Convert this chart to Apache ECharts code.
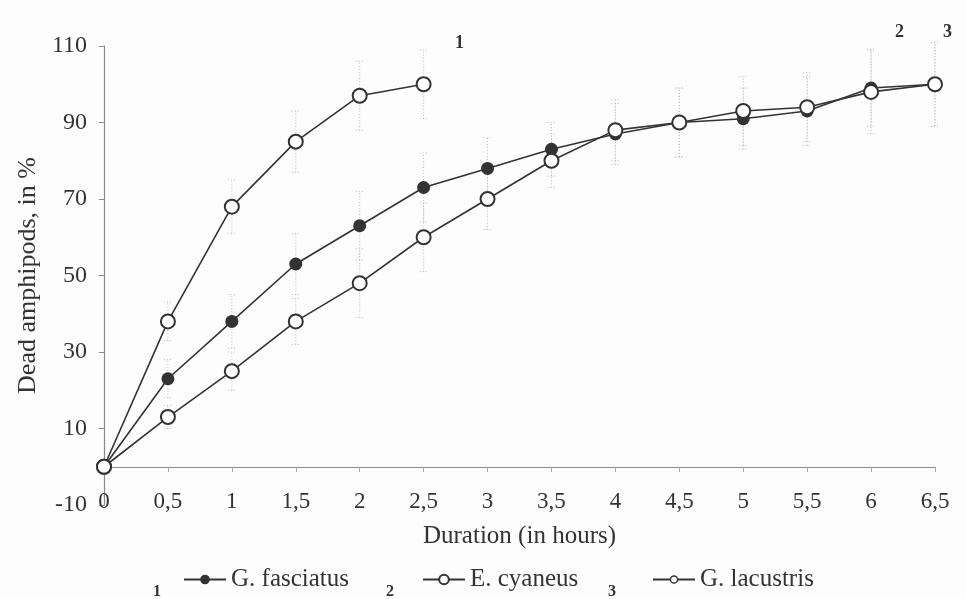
<!DOCTYPE html>
<html>
<head>
<meta charset="utf-8">
<script src="https://cdn.jsdelivr.net/npm/echarts@6/dist/echarts.min.js"></script>
<style>
 html,body{margin:0;padding:0;background:#fdfdfd;}
 #main{width:966px;height:599px;}
</style>
</head>
<body>
<div id="main"></div>
<script>
var hours = ['0', '0,5', '1', '1,5', '2', '2,5', '3', '3,5', '4', '4,5', '5', '5,5', '6', '6,5'];
var yTicks = [-10, 10, 30, 50, 70, 90, 110];

var fasciatus = [0, 23, 38, 53, 63, 73, 78, 83, 87, 90, 91, 93, 99, 100];
var fasciatusErr = [0, 5, 7, 8, 9, 9, 8, 7, 8, 9, 8, 9, 10, 11];
var cyaneus = [0, 38, 68, 85, 97, 100];
var cyaneusErr = [0, 5, 7, 8, 9, 9];
var lacustris = [0, 13, 25, 38, 48, 60, 70, 80, 88, 90, 93, 94, 98, 100];
var lacustrisErr = [0, 3, 5, 6, 9, 9, 8, 7, 8, 9, 9, 9, 11, 11];

var serif = '"Liberation Serif", "DejaVu Serif", serif';
var ink = '#333';

function errData(vals, errs) {
    return vals.map(function (v, i) { return [i, v - errs[i], v + errs[i]]; });
}

function errSeries(name, vals, errs) {
    return {
        name: name + ' err',
        type: 'custom',
        xAxisIndex: 0,
        silent: true,
        z: 1,
        data: errData(vals, errs),
        renderItem: function (params, api) {
            if (api.value(1) === api.value(2)) return null;
            var lo = api.coord([api.value(0), api.value(1)]);
            var hi = api.coord([api.value(0), api.value(2)]);
            var st = { stroke: '#bcbcbc', lineWidth: 1, lineDash: [1, 2] };
            return {
                type: 'group',
                children: [
                    { type: 'line', shape: { x1: lo[0], y1: lo[1], x2: hi[0], y2: hi[1] }, style: st },
                    { type: 'line', shape: { x1: lo[0] - 4, y1: lo[1], x2: lo[0] + 4, y2: lo[1] }, style: st },
                    { type: 'line', shape: { x1: hi[0] - 4, y1: hi[1], x2: hi[0] + 4, y2: hi[1] }, style: st }
                ]
            };
        }
    };
}

function lineSeries(name, vals, filled, size) {
    return {
        name: name,
        type: 'line',
        xAxisIndex: 0,
        data: vals,
        z: 3,
        symbol: 'circle',
        symbolSize: size,
        showAllSymbol: true,
        lineStyle: { color: ink, width: 1.6 },
        itemStyle: {
            color: filled ? ink : '#fff',
            borderColor: ink,
            borderWidth: filled ? 0 : 2
        }
    };
}

var chart = echarts.init(document.getElementById('main'));

var legendBase = {
    top: 562,
    itemWidth: 42,
    itemHeight: 12,
    itemGap: 6,
    textStyle: { fontFamily: serif, fontSize: 25, color: ink }
};

var option = {
    backgroundColor: '#fdfdfd',
    animation: false,
    grid: { left: 104, right: 31, top: 46, bottom: 94 },
    legend: [
        Object.assign({ left: 178, data: ['G. fasciatus'] }, legendBase),
        Object.assign({ left: 417, data: ['E. cyaneus'] }, legendBase),
        Object.assign({ left: 647, data: [{ name: 'G. lacustris', itemStyle: { borderWidth: 1.5 } }] }, legendBase, { itemHeight: 9 })
    ],
    xAxis: [{
        type: 'category',
        data: hours,
        boundaryGap: false,
        axisLine: { onZero: true, lineStyle: { color: '#8a8a8a', width: 1.2 } },
        axisTick: { show: true, length: 5, lineStyle: { color: '#aaa' } },
        axisLabel: { show: false },
        splitLine: { show: false }
    }, {
        type: 'category',
        data: hours,
        boundaryGap: false,
        position: 'bottom',
        axisLine: { show: false, onZero: false },
        axisTick: { show: false },
        axisLabel: { margin: -15, fontFamily: serif, fontSize: 23, color: ink },
        name: 'Duration (in hours)',
        nameLocation: 'middle',
        nameGap: 19,
        nameTextStyle: { fontFamily: serif, fontSize: 25, color: ink }
    }],
    yAxis: {
        type: 'value',
        min: yTicks[0],
        max: yTicks[yTicks.length - 1],
        interval: yTicks[1] - yTicks[0],
        axisLine: { show: true, lineStyle: { color: '#8a8a8a', width: 1.2 } },
        axisTick: { show: true, length: 5, lineStyle: { color: '#8a8a8a' } },
        splitLine: { show: false },
        axisLabel: { margin: 17, fontFamily: serif, fontSize: 24, color: ink },
        name: 'Dead amphipods, in %',
        nameLocation: 'middle',
        nameGap: 62,
        nameTextStyle: { fontFamily: serif, fontSize: 26, color: ink }
    },
    graphic: [
        { type: 'text', left: 455, top: 34, style: { text: '1', font: 'bold 18px ' + serif, fill: ink } },
        { type: 'text', left: 895, top: 23, style: { text: '2', font: 'bold 18px ' + serif, fill: ink } },
        { type: 'text', left: 943, top: 23, style: { text: '3', font: 'bold 18px ' + serif, fill: ink } },
        { type: 'text', left: 153, top: 584, style: { text: '1', font: 'bold 16px ' + serif, fill: ink } },
        { type: 'text', left: 386, top: 584, style: { text: '2', font: 'bold 16px ' + serif, fill: ink } },
        { type: 'text', left: 608, top: 584, style: { text: '3', font: 'bold 16px ' + serif, fill: ink } }
    ],
    series: [
        errSeries('G. fasciatus', fasciatus, fasciatusErr),
        errSeries('E. cyaneus', cyaneus, cyaneusErr),
        errSeries('G. lacustris', lacustris, lacustrisErr),
        lineSeries('G. fasciatus', fasciatus, true, 13),
        lineSeries('G. lacustris', lacustris, false, 14),
        lineSeries('E. cyaneus', cyaneus, false, 14)
    ]
};
chart.setOption(option);
</script>
</body>
</html>
